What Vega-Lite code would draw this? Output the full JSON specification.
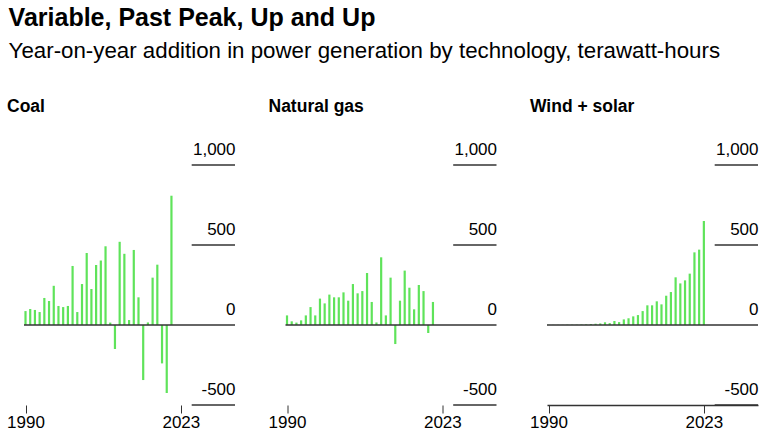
{
  "$schema": "https://vega.github.io/schema/vega-lite/v6.json",
  "background": "white",
  "padding": {"left": 6, "top": 6, "right": 5, "bottom": 5},
  "config": {
    "font": "Liberation Sans",
    "view": {"stroke": null},
    "bar": {"color": "#5fe35a"}
  },
  "title": {
    "text": "Variable, Past Peak, Up and Up",
    "subtitle": "Year-on-year addition in power generation by technology, terawatt-hours",
    "anchor": "start",
    "frame": "bounds",
    "dx": 2,
    "font": "Liberation Sans",
    "fontSize": 25,
    "fontWeight": "bold",
    "color": "#000000",
    "subtitleFont": "Liberation Sans",
    "subtitleFontSize": 22.3,
    "subtitleColor": "#000000",
    "subtitlePadding": 9,
    "offset": 35
  },
  "datasets": {
    "grid": [{"v": 1000}, {"v": 500}, {"v": -500}],
    "coal": [
      {"year": 1990, "value": 87}, {"year": 1991, "value": 100}, {"year": 1992, "value": 94},
      {"year": 1993, "value": 81}, {"year": 1994, "value": 169}, {"year": 1995, "value": 150},
      {"year": 1996, "value": 245}, {"year": 1997, "value": 119}, {"year": 1998, "value": 112},
      {"year": 1999, "value": 119}, {"year": 2000, "value": 369}, {"year": 2001, "value": 81},
      {"year": 2002, "value": 256}, {"year": 2003, "value": 450}, {"year": 2004, "value": 225},
      {"year": 2005, "value": 375}, {"year": 2006, "value": 403}, {"year": 2007, "value": 492},
      {"year": 2008, "value": 15}, {"year": 2009, "value": -150}, {"year": 2010, "value": 520},
      {"year": 2011, "value": 445}, {"year": 2012, "value": 31}, {"year": 2013, "value": 469},
      {"year": 2014, "value": 173}, {"year": 2015, "value": -344}, {"year": 2016, "value": 16},
      {"year": 2017, "value": 296}, {"year": 2018, "value": 377}, {"year": 2019, "value": -240},
      {"year": 2020, "value": -425}, {"year": 2021, "value": 808}
    ],
    "gas": [
      {"year": 1990, "value": 60}, {"year": 1991, "value": 23}, {"year": 1992, "value": 15},
      {"year": 1993, "value": 29}, {"year": 1994, "value": 60}, {"year": 1995, "value": 112},
      {"year": 1996, "value": 60}, {"year": 1997, "value": 165}, {"year": 1998, "value": 135},
      {"year": 1999, "value": 190}, {"year": 2000, "value": 173}, {"year": 2001, "value": 173},
      {"year": 2002, "value": 204}, {"year": 2003, "value": 152}, {"year": 2004, "value": 256},
      {"year": 2005, "value": 198}, {"year": 2006, "value": 212}, {"year": 2007, "value": 325},
      {"year": 2008, "value": 144}, {"year": 2009, "value": 16}, {"year": 2010, "value": 423},
      {"year": 2011, "value": 60}, {"year": 2012, "value": 296}, {"year": 2013, "value": -119},
      {"year": 2014, "value": 152}, {"year": 2015, "value": 340}, {"year": 2016, "value": 233},
      {"year": 2017, "value": 98}, {"year": 2018, "value": 250}, {"year": 2019, "value": 212},
      {"year": 2020, "value": -50}, {"year": 2021, "value": 144}
    ],
    "ws": [
      {"year": 1990, "value": 1}, {"year": 1991, "value": 1}, {"year": 1992, "value": 1},
      {"year": 1993, "value": 1}, {"year": 1994, "value": 2}, {"year": 1995, "value": 2},
      {"year": 1996, "value": 2}, {"year": 1997, "value": 3}, {"year": 1998, "value": 4},
      {"year": 1999, "value": 6}, {"year": 2000, "value": 8}, {"year": 2001, "value": 10},
      {"year": 2002, "value": 17}, {"year": 2003, "value": 12}, {"year": 2004, "value": 25},
      {"year": 2005, "value": 18}, {"year": 2006, "value": 35}, {"year": 2007, "value": 42},
      {"year": 2008, "value": 54}, {"year": 2009, "value": 62}, {"year": 2010, "value": 87},
      {"year": 2011, "value": 123}, {"year": 2012, "value": 123}, {"year": 2013, "value": 148},
      {"year": 2014, "value": 129}, {"year": 2015, "value": 183}, {"year": 2016, "value": 206},
      {"year": 2017, "value": 298}, {"year": 2018, "value": 260}, {"year": 2019, "value": 279},
      {"year": 2020, "value": 321}, {"year": 2021, "value": 454}, {"year": 2022, "value": 471},
      {"year": 2023, "value": 650}
    ]
  },
  "bounds": "flush",
  "spacing": 50.5,
  "hconcat": [
    {
      "width": 211, "height": 240,
      "title": {"text": "Coal", "anchor": "start", "frame": "group", "dx": -17, "fontSize": 17.5, "fontWeight": "bold", "color": "#000000", "offset": 25},
      "layer": [
        {
          "data": {"name": "coal"},
          "mark": {"type": "bar", "size": 2.2, "color": "#5fe35a"},
          "encoding": {
            "x": {"field": "year", "type": "quantitative",
              "scale": {"domain": [1989.68, 2034.5], "nice": false, "zero": false, "padding": 0},
              "axis": {"values": [1990, 2023], "format": "d", "title": null, "grid": false, "domain": false,
                "ticks": true, "tickSize": 8, "tickColor": "#333333", "tickWidth": 1,
                "labelFontSize": 17, "labelColor": "#000000", "labelPadding": 1, "labelFlush": false}},
            "y": {"field": "value", "type": "quantitative",
              "scale": {"domain": [-500, 1000], "nice": false},
              "axis": {"orient": "right", "values": [-500, 0, 500, 1000], "title": null, "grid": false,
                "domain": false, "ticks": false, "labelAlign": "right", "labelPadding": 0,
                "labelBaseline": "alphabetic", "labelOffset": -11, "labelFlush": false,
                "labelFontSize": 17, "labelColor": "#000000",
                "labelExpr": "datum.value < 0 ? '-' + format(-datum.value, ',') : format(datum.value, ',')"}}
          }
        },
        {
          "data": {"name": "grid"},
          "mark": {"type": "rule", "color": "#333333", "strokeWidth": 1.4},
          "encoding": {
            "x": {"datum": 2025.3, "type": "quantitative"},
            "x2": {"datum": 2034.5},
            "y": {"field": "v", "type": "quantitative"}
          }
        },
        {
          "data": {"values": [{}]},
          "mark": {"type": "rule", "color": "#333333", "strokeWidth": 1.4},
          "encoding": {"y": {"datum": 0, "type": "quantitative"}}
        }
      ]
    },
    {
      "width": 211, "height": 240,
      "title": {"text": "Natural gas", "anchor": "start", "frame": "group", "dx": -17, "fontSize": 17.5, "fontWeight": "bold", "color": "#000000", "offset": 25},
      "layer": [
        {
          "data": {"name": "gas"},
          "mark": {"type": "bar", "size": 2.2, "color": "#5fe35a"},
          "encoding": {
            "x": {"field": "year", "type": "quantitative",
              "scale": {"domain": [1989.68, 2034.5], "nice": false, "zero": false, "padding": 0},
              "axis": {"values": [1990, 2023], "format": "d", "title": null, "grid": false, "domain": false,
                "ticks": true, "tickSize": 8, "tickColor": "#333333", "tickWidth": 1,
                "labelFontSize": 17, "labelColor": "#000000", "labelPadding": 1, "labelFlush": false}},
            "y": {"field": "value", "type": "quantitative",
              "scale": {"domain": [-500, 1000], "nice": false},
              "axis": {"orient": "right", "values": [-500, 0, 500, 1000], "title": null, "grid": false,
                "domain": false, "ticks": false, "labelAlign": "right", "labelPadding": 0,
                "labelBaseline": "alphabetic", "labelOffset": -11, "labelFlush": false,
                "labelFontSize": 17, "labelColor": "#000000",
                "labelExpr": "datum.value < 0 ? '-' + format(-datum.value, ',') : format(datum.value, ',')"}}
          }
        },
        {
          "data": {"name": "grid"},
          "mark": {"type": "rule", "color": "#333333", "strokeWidth": 1.4},
          "encoding": {
            "x": {"datum": 2025.3, "type": "quantitative"},
            "x2": {"datum": 2034.5},
            "y": {"field": "v", "type": "quantitative"}
          }
        },
        {
          "data": {"values": [{}]},
          "mark": {"type": "rule", "color": "#333333", "strokeWidth": 1.4},
          "encoding": {"y": {"datum": 0, "type": "quantitative"}}
        }
      ]
    },
    {
      "width": 211, "height": 240,
      "title": {"text": "Wind + solar", "anchor": "start", "frame": "group", "dx": -17, "fontSize": 17.5, "fontWeight": "bold", "color": "#000000", "offset": 25},
      "layer": [
        {
          "data": {"name": "ws"},
          "mark": {"type": "bar", "size": 2.2, "color": "#5fe35a"},
          "encoding": {
            "x": {"field": "year", "type": "quantitative",
              "scale": {"domain": [1989.68, 2034.5], "nice": false, "zero": false, "padding": 0},
              "axis": {"values": [1990, 2023], "format": "d", "title": null, "grid": false, "domain": true,
                "domainColor": "#333333", "domainWidth": 1.4,
                "ticks": true, "tickSize": 8, "tickColor": "#333333", "tickWidth": 1,
                "labelFontSize": 17, "labelColor": "#000000", "labelPadding": 1, "labelFlush": false}},
            "y": {"field": "value", "type": "quantitative",
              "scale": {"domain": [-500, 1000], "nice": false},
              "axis": {"orient": "right", "values": [-500, 0, 500, 1000], "title": null, "grid": false,
                "domain": false, "ticks": false, "labelAlign": "right", "labelPadding": 0,
                "labelBaseline": "alphabetic", "labelOffset": -11, "labelFlush": false,
                "labelFontSize": 17, "labelColor": "#000000",
                "labelExpr": "datum.value < 0 ? '-' + format(-datum.value, ',') : format(datum.value, ',')"}}
          }
        },
        {
          "data": {"name": "grid"},
          "mark": {"type": "rule", "color": "#333333", "strokeWidth": 1.4},
          "encoding": {
            "x": {"datum": 2025.3, "type": "quantitative"},
            "x2": {"datum": 2034.5},
            "y": {"field": "v", "type": "quantitative"}
          }
        },
        {
          "data": {"values": [{}]},
          "mark": {"type": "rule", "color": "#333333", "strokeWidth": 1.4},
          "encoding": {"y": {"datum": 0, "type": "quantitative"}}
        }
      ]
    }
  ]
}
